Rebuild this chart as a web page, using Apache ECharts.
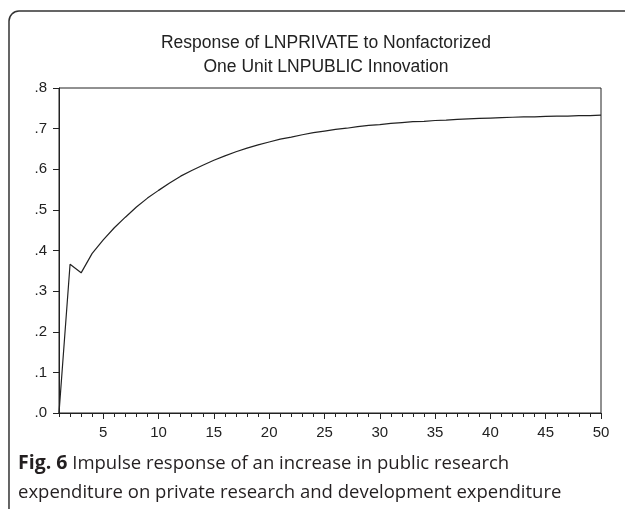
<!DOCTYPE html>
<html>
<head>
<meta charset="utf-8">
<script src="https://cdn.jsdelivr.net/npm/echarts@6/dist/echarts.min.js"></script>
<style>
  html, body { margin: 0; padding: 0; background: #fff; }
  #chart { width: 625px; height: 509px; }
</style>
</head>
<body>
<div id="chart"></div>
<script>
// 期数 1..50
const periods = []
for (let i = 1; i <= 50; i++) periods.push(i)

// 响应值
const response = [
  0.000, 0.366, 0.345, 0.393, 0.426, 0.456, 0.482, 0.507, 0.529, 0.548,
  0.566, 0.583, 0.597, 0.610, 0.622, 0.633, 0.643, 0.652, 0.660, 0.667,
  0.674, 0.679, 0.685, 0.690, 0.694, 0.698, 0.701, 0.705, 0.708, 0.710,
  0.713, 0.715, 0.717, 0.718, 0.720, 0.721, 0.723, 0.724, 0.725, 0.726,
  0.727, 0.728, 0.729, 0.729, 0.730, 0.731, 0.731, 0.732, 0.732, 0.733
]

const xLabelTicks = [5, 10, 15, 20, 25, 30, 35, 40, 45, 50]

const chartTitle = 'Response of LNPRIVATE to Nonfactorized\nOne Unit LNPUBLIC Innovation'
const captionBold = 'Fig. 6'
const captionRest = ' Impulse response of an increase in public research\nexpenditure on private research and development expenditure'

const chart = echarts.init(document.getElementById('chart'))

const axisFont = { fontFamily: 'Liberation Sans', fontSize: 15, color: '#222' }

const option = {
  animation: false,
  backgroundColor: '#fff',
  title: [
    {
      text: chartTitle,
      left: 321,
      top: 26,
      textAlign: 'center',
      textStyle: {
        fontFamily: 'Liberation Sans',
        fontSize: 17.5,
        fontWeight: 'normal',
        color: '#222',
        lineHeight: 24
      }
    },
    {
      text: '{b|' + captionBold + '}' + captionRest,
      left: 13,
      top: 444,
      textStyle: {
        fontFamily: 'Open Sans',
        fontSize: 18.5,
        fontWeight: 'normal',
        color: '#231f20',
        lineHeight: 29,
        rich: {
          b: { fontFamily: 'Open Sans', fontSize: 19.5, fontWeight: 'bold', color: '#231f20', lineHeight: 29 }
        }
      }
    }
  ],
  graphic: [
    {
      type: 'rect',
      shape: { x: 9, y: 11, width: 660, height: 540, r: 10 },
      style: { fill: 'none', stroke: '#333', lineWidth: 1.5 },
      silent: true
    }
  ],
  grid: {
    left: 59,
    right: 24,
    top: 88,
    bottom: 96,
    show: true,
    borderColor: '#222',
    borderWidth: 1
  },
  xAxis: [
    {
      type: 'value',
      min: 1,
      max: 50,
      interval: 1,
      axisLine: { show: true, lineStyle: { color: '#222', width: 1 } },
      axisTick: { show: true, length: 4, lineStyle: { color: '#222' } },
      axisLabel: { show: false },
      splitLine: { show: false }
    },
    {
      type: 'value',
      position: 'bottom',
      min: 1,
      max: 50,
      axisLine: { show: false },
      axisTick: {
        show: true,
        length: 6,
        customValues: xLabelTicks,
        lineStyle: { color: '#222' }
      },
      axisLabel: {
        show: true,
        customValues: xLabelTicks,
        margin: 12,
        ...axisFont
      },
      splitLine: { show: false }
    }
  ],
  yAxis: {
    type: 'value',
    min: 0,
    max: 0.8,
    interval: 0.1,
    axisLine: { show: true, lineStyle: { color: '#222', width: 1 } },
    axisTick: { show: true, length: 6, lineStyle: { color: '#222' } },
    axisLabel: {
      margin: 12,
      formatter: v => v.toFixed(1).replace(/^0/, ''),
      ...axisFont
    },
    splitLine: { show: false }
  },
  series: [
    {
      type: 'line',
      xAxisIndex: 0,
      data: periods.map((p, i) => [p, response[i]]),
      showSymbol: false,
      symbol: 'none',
      lineStyle: { color: '#222', width: 1.2 }
    }
  ]
}

chart.setOption(option)
</script>
</body>
</html>
